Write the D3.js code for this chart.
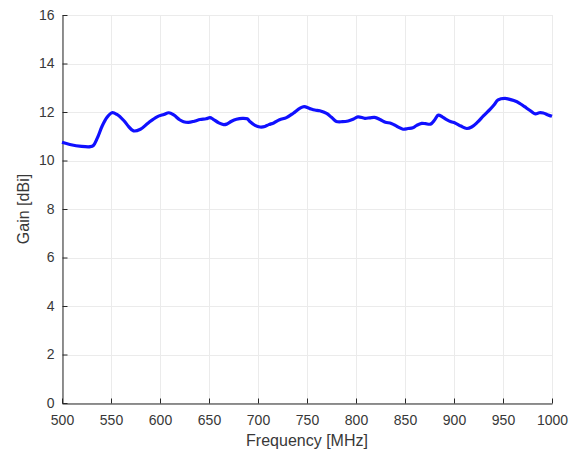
<!DOCTYPE html>
<html>
<head>
<meta charset="utf-8">
<script src="https://cdn.jsdelivr.net/npm/d3@7"></script>
<style>
  html, body { margin: 0; padding: 0; background: #fff; }
  svg text { font-family: "Liberation Sans", Arial, sans-serif; }
</style>
</head>
<body>
<svg id="chart" width="584" height="454"></svg>
<script>
// Antenna gain over frequency
const frequency = [500, 508, 520, 529, 532, 536, 541, 546, 551, 556, 563, 568, 573, 580, 588, 597, 604, 609, 614, 620, 624, 629, 635, 641, 647, 651, 654, 660, 665, 668, 673, 678, 684, 689, 692, 697, 702, 707, 711, 716, 722, 729, 736, 743, 747, 753, 758, 763, 770, 775, 780, 786, 792, 797, 802, 809, 814, 819, 825, 830, 836, 842, 848, 853, 858, 862, 867, 871, 876, 880, 884, 888, 892, 897, 901, 907, 913, 918, 924, 930, 937, 941, 945, 952, 956, 961, 967, 972, 978, 983, 987, 991, 996, 1000];
const gain = [10.75, 10.66, 10.58, 10.57, 10.62, 10.92, 11.42, 11.78, 11.97, 11.9, 11.65, 11.4, 11.22, 11.29, 11.55, 11.8, 11.9, 11.97, 11.88, 11.68, 11.6, 11.57, 11.62, 11.69, 11.72, 11.77, 11.71, 11.55, 11.48, 11.5, 11.62, 11.7, 11.74, 11.72, 11.6, 11.45, 11.38, 11.4, 11.48, 11.55, 11.68, 11.77, 11.95, 12.16, 12.22, 12.14, 12.08, 12.05, 11.94, 11.78, 11.61, 11.6, 11.63, 11.7, 11.8, 11.74, 11.76, 11.78, 11.68, 11.58, 11.53, 11.4, 11.29, 11.32, 11.35, 11.45, 11.53, 11.52, 11.5, 11.66, 11.87, 11.8, 11.7, 11.6, 11.55, 11.42, 11.32, 11.38, 11.58, 11.84, 12.12, 12.3, 12.5, 12.56, 12.53, 12.47, 12.36, 12.22, 12.05, 11.92, 11.97, 11.96, 11.88, 11.82];

const xTicks = [500, 550, 600, 650, 700, 750, 800, 850, 900, 950, 1000];
const yTicks = [0, 2, 4, 6, 8, 10, 12, 14, 16];

const plot = { left: 62, right: 552, top: 15, bottom: 403 };

const svg = d3.select("#chart");
const x = d3.scaleLinear().domain([500, 1000]).range([plot.left, plot.right]);
const y = d3.scaleLinear().domain([0, 16]).range([plot.bottom, plot.top]);

// grid
const grid = svg.append("g").attr("stroke", "#ebebeb").attr("stroke-width", 1);
grid.selectAll(".gx").data(xTicks).join("line")
  .attr("x1", d => Math.round(x(d)) + 0.5).attr("x2", d => Math.round(x(d)) + 0.5)
  .attr("y1", plot.top).attr("y2", plot.bottom);
grid.selectAll(".gy").data(yTicks).join("line")
  .attr("y1", d => Math.round(y(d)) + 0.5).attr("y2", d => Math.round(y(d)) + 0.5)
  .attr("x1", plot.left).attr("x2", plot.right);

// axes with inward ticks
const axisColor = "#262626";
const fmt = d3.format("d");
const xAxis = svg.append("g")
  .attr("transform", `translate(0,${plot.bottom + 0.5})`)
  .call(d3.axisBottom(x).tickValues(xTicks).tickFormat(fmt).tickSizeInner(-5).tickSizeOuter(0).tickPadding(12));
const yAxis = svg.append("g")
  .attr("transform", `translate(${plot.left + 0.5},0)`)
  .call(d3.axisLeft(y).tickValues(yTicks).tickFormat(fmt).tickSizeInner(-5).tickSizeOuter(0).tickPadding(8));
[xAxis, yAxis].forEach(a => {
  a.select(".domain").attr("stroke", axisColor);
  a.selectAll(".tick line").attr("stroke", axisColor);
  a.selectAll(".tick text").attr("fill", "#383838").attr("font-size", 14)
    .attr("font-family", "Liberation Sans, Arial, sans-serif");
});

// gain curve
const line = d3.line().x((d, i) => x(frequency[i])).y(d => y(d)).curve(d3.curveCatmullRom.alpha(0.5));
svg.append("path").datum(gain)
  .attr("d", line)
  .attr("fill", "none")
  .attr("stroke", "#1010ff")
  .attr("stroke-width", 3.2)
  .attr("stroke-linejoin", "round");

// axis titles
svg.append("text")
  .attr("x", (plot.left + plot.right) / 2).attr("y", 446)
  .attr("text-anchor", "middle").attr("font-size", 16).attr("fill", "#383838")
  .text("Frequency [MHz]");
svg.append("text")
  .attr("transform", `translate(29,${(plot.top + plot.bottom) / 2}) rotate(-90)`)
  .attr("text-anchor", "middle").attr("font-size", 16).attr("fill", "#383838")
  .text("Gain [dBi]");
</script>
</body>
</html>
